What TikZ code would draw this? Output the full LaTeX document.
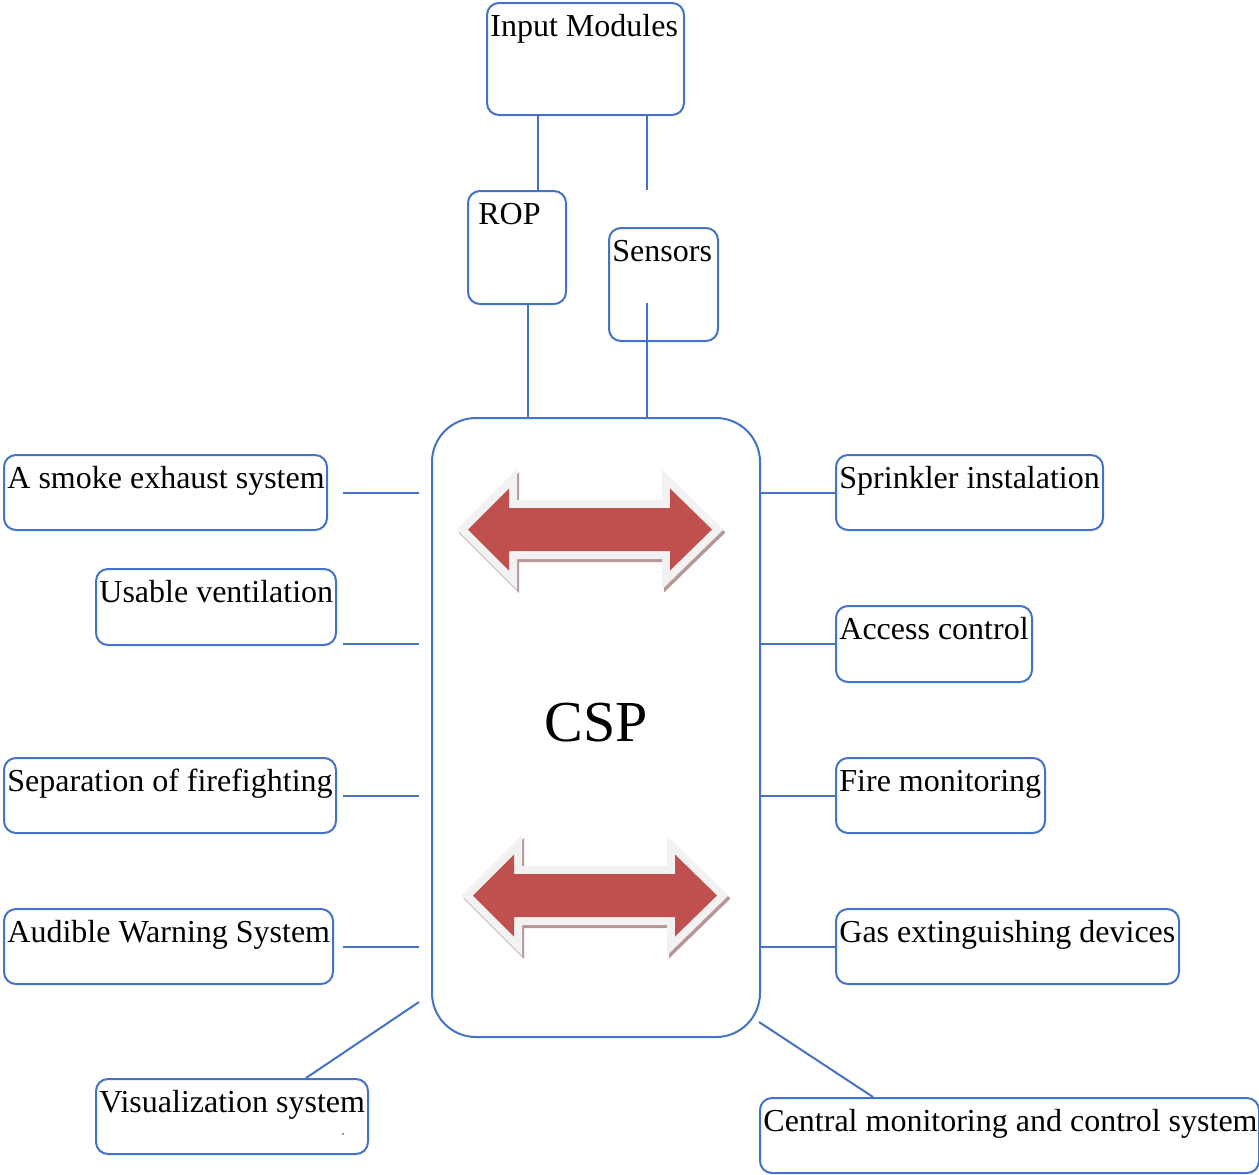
\documentclass[tikz,border=0pt]{standalone}
\usepackage{fontspec}
\setmainfont{Liberation Serif}
\usetikzlibrary{calc}

\definecolor{boxblue}{RGB}{68,114,196}
\definecolor{arrowred}{RGB}{192,80,77}
\definecolor{arrowrim}{RGB}{242,242,242}
\definecolor{arrowshade}{RGB}{184,150,150}

\newcommand{\arrowshape}{(-122,0) -- (-81,-41) -- (-81,-21.5) -- (80,-21.5) -- (80,-41) -- (122,0)
  -- (80,41) -- (80,21.5) -- (-81,21.5) -- (-81,41) -- cycle}

\tikzset{
  box/.style={draw=boxblue, line width=1pt, rounded corners=6pt, anchor=north west, inner sep=0pt},
  lbl/.style={anchor=base west, inner sep=0pt, xshift=2pt, yshift=-17pt, font=\fontsize{16}{19}\selectfont},
  link/.style={draw=boxblue, line width=1pt},
}

\begin{document}
\begin{tikzpicture}[x=0.5pt, y=-0.5pt]
  \useasboundingbox (0,0) rectangle (1259,1174);

  % Central panel
  \node[box, rounded corners=22pt, minimum width=164pt, minimum height=309.5pt,
        font=\fontsize{29}{35}\selectfont, text depth=5pt] (csp) at (431,417) {CSP};

  % Double arrows inside the panel
  \foreach \cx/\cy in {590/529.5, 595/895.5} {
    \draw[arrowshade, fill=arrowshade, line width=8pt, line join=miter, shift={(\cx+2,\cy+3)}] \arrowshape;
    \draw[arrowrim, fill=arrowrim, line width=8pt, line join=miter, shift={(\cx,\cy)}] \arrowshape;
    \fill[arrowred, shift={(\cx,\cy)}] \arrowshape;
  }

  % Inputs
  \node[box, minimum width=98.5pt, minimum height=56pt, label={[lbl]north west:Input Modules}] (inmod) at (486,2) {};
  \node[box, minimum width=49pt, minimum height=56.5pt, label={[lbl, xshift=3.5pt]north west:ROP}] (rop) at (467,190) {};
  \node[box, minimum width=54.5pt, minimum height=56.5pt, label={[lbl]north west:Sensors}] (sensors) at (608,227) {};

  % Left column
  \node[box, minimum width=161.5pt, minimum height=37.5pt, label={[lbl]north west:A smoke exhaust system}] (smoke) at (3,454) {};
  \node[box, minimum width=120pt, minimum height=38pt, label={[lbl]north west:Usable ventilation}] (usable) at (95,568) {};
  \node[box, minimum width=166pt, minimum height=37.5pt, label={[lbl]north west:Separation of firefighting}] (separ) at (3,757) {};
  \node[box, minimum width=164.5pt, minimum height=37.5pt, label={[lbl]north west:Audible Warning System}] (audible) at (3,908) {};
  \node[box, minimum width=136pt, minimum height=37.5pt, label={[lbl]north west:Visualization system}] (visual) at (95,1078) {};
  \fill[boxblue] (343,1134) circle (0.6pt);

  % Right column
  \node[box, minimum width=133.5pt, minimum height=37.5pt, label={[lbl]north west:Sprinkler instalation}] (sprink) at (835,454) {};
  \node[box, minimum width=98pt, minimum height=38pt, label={[lbl]north west:Access control}] (access) at (835,605) {};
  \node[box, minimum width=104.5pt, minimum height=37.5pt, label={[lbl]north west:Fire monitoring}] (firemon) at (835,757) {};
  \node[box, minimum width=171.5pt, minimum height=37.5pt, label={[lbl]north west:Gas extinguishing devices}] (gas) at (835,908) {};
  \node[box, minimum width=249.5pt, minimum height=37.5pt, label={[lbl]north west:Central monitoring and control system}] (central) at (759,1097) {};

  % Free line ends
  \coordinate (lgap) at (343,0);
  \coordinate (rgap) at (419,0);
  \coordinate (sfree) at (647,190);
  \coordinate (stap) at (647,303);
  \coordinate (vend) at (419,1002);
  \coordinate (cend) at (759,1022);

  % Connectors
  \draw[link] ([xshift=10.5pt]rop.north) -- ([xshift=10.5pt]rop.north |- inmod.south);
  \draw[link] (sfree |- inmod.south) -- (sfree);
  \draw[link] ([xshift=5.5pt]rop.south) -- ([xshift=5.5pt]rop.south |- csp.north);
  \draw[link] (stap) -- (stap |- csp.north);
  \foreach \n in {smoke, separ, audible}
    \draw[link] (\n.east -| lgap) -- (\n.east -| rgap);
  \draw[link] ([yshift=1pt]usable.south -| lgap) -- ([yshift=1pt]usable.south -| rgap);
  \foreach \n in {sprink, access, firemon, gas}
    \draw[link] (\n.west -| csp.east) -- (\n.west);
  \draw[link] ([xshift=37pt]visual.north) -- (vend);
  \draw[link] (cend) -- ([xshift=-68.25pt]central.north);
\end{tikzpicture}
\end{document}
